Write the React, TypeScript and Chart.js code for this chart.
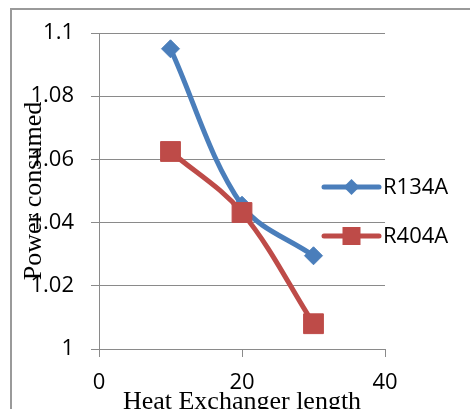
import React, { useEffect, useRef } from "react";
import { Chart, registerables } from "chart.js";

Chart.register(...registerables);

const xValues = [10, 20, 30];
const r134aValues = [1.095, 1.0455, 1.0295];
const r404aValues = [1.0625, 1.0432, 1.008];
const seriesNames = ["R134A", "R404A"];
const seriesColors = ["#4A7EBB", "#BE4B48"];
const seriesMarkers = ["rectRot", "rect"];
const xTickValues = [0, 20, 40];
const yTickValues = [1, 1.02, 1.04, 1.06, 1.08, 1.1];
const xTitle = "Heat Exchanger length";
const yTitle = "Power consumed";

const GRID = "#8a8a8a";
const TICK_FONT = { family: "'Open Sans', sans-serif", size: 22 };
const TITLE_FONT = { family: "'Liberation Serif', 'Times New Roman', serif", size: 26 };

const framePlugin = {
  id: "frame",
  beforeDraw(chart: any) {
    const ctx = chart.ctx;
    ctx.save();
    ctx.fillStyle = "#ffffff";
    ctx.fillRect(0, 0, chart.width, chart.height);
    ctx.strokeStyle = "#9a9a9a";
    ctx.lineWidth = 2;
    ctx.beginPath();
    ctx.moveTo(11, chart.height + 5);
    ctx.lineTo(11, 9);
    ctx.lineTo(chart.width + 5, 9);
    ctx.stroke();
    ctx.restore();
  },
};

const legendPlugin = {
  id: "customLegend",
  afterDraw(chart: any) {
    const ctx = chart.ctx;
    const area = chart.chartArea;
    const x0 = area.right - 61;
    const lineLen = 55;
    const y0 = area.top + 154;
    const gap = 49;
    ctx.save();
    chart.data.datasets.forEach((ds: any, i: number) => {
      const y = y0 + i * gap;
      ctx.strokeStyle = ds.borderColor;
      ctx.lineWidth = 5;
      ctx.lineCap = "round";
      ctx.beginPath();
      ctx.moveTo(x0, y);
      ctx.lineTo(x0 + lineLen, y);
      ctx.stroke();
      ctx.fillStyle = ds.backgroundColor;
      const cx = x0 + lineLen / 2;
      ctx.beginPath();
      if (ds.pointStyle === "rectRot") {
        const r = 8;
        ctx.moveTo(cx - r, y);
        ctx.lineTo(cx, y - r);
        ctx.lineTo(cx + r, y);
        ctx.lineTo(cx, y + r);
        ctx.closePath();
      } else {
        const h = 9;
        ctx.rect(cx - h, y - h, 2 * h, 2 * h);
      }
      ctx.fill();
      ctx.fillStyle = "#000";
      ctx.font = `${TICK_FONT.size}px ${TICK_FONT.family}`;
      ctx.textBaseline = "middle";
      ctx.textAlign = "left";
      ctx.fillText(ds.label, x0 + lineLen + 4, y + 1);
    });
    ctx.restore();
  },
};

export default function App() {
  const ref = useRef<HTMLCanvasElement | null>(null);

  useEffect(() => {
    if (!ref.current) return;
    const allSeries = [r134aValues, r404aValues];
    const chart = new Chart(ref.current, {
      type: "scatter",
      data: {
        datasets: allSeries.map((vals, i) => ({
          label: seriesNames[i],
          data: xValues.map((x, j) => ({ x, y: vals[j] })),
          showLine: true,
          borderColor: seriesColors[i],
          backgroundColor: seriesColors[i],
          borderWidth: 5,
          tension: 0.35,
          pointStyle: seriesMarkers[i] as any,
          pointRadius: i === 0 ? 9 : 14,
          pointBorderWidth: 1,
          pointBorderColor: seriesColors[i],
          pointBackgroundColor: seriesColors[i],
          order: i === 0 ? 1 : 0,
        })),
      },
      options: {
        responsive: false,
        animation: false,
        events: [],
        layout: { padding: { left: 0, top: 33, right: 85, bottom: 0 } },
        plugins: {
          legend: { display: false },
          tooltip: { enabled: false },
        },
        scales: {
          x: {
            type: "linear",
            min: 0,
            max: 40,
            afterBuildTicks: (s: any) => {
              s.ticks = xTickValues.map((v) => ({ value: v }));
            },
            afterFit: (s: any) => {
              s.height = 60;
            },
            ticks: {
              font: TICK_FONT,
              color: "#000",
              padding: 13,
              maxRotation: 0,
            },
            grid: {
              drawOnChartArea: false,
              drawTicks: true,
              tickLength: 8,
              color: GRID,
              lineWidth: 1,
            },
            border: { display: true, color: GRID, width: 1 },
            title: {
              display: true,
              text: xTitle,
              font: TITLE_FONT,
              color: "#000",
              padding: { top: 0, bottom: -9 },
            },
          },
          y: {
            type: "linear",
            min: 1,
            max: 1.1,
            afterBuildTicks: (s: any) => {
              s.ticks = yTickValues.map((v) => ({ value: v }));
            },
            afterFit: (s: any) => {
              s.width = 99;
            },
            ticks: {
              font: TICK_FONT,
              color: "#000",
              padding: 17,
              callback: (v: any) => String(Number(Number(v).toFixed(2))),
            },
            grid: {
              drawTicks: true,
              tickLength: 8,
              color: GRID,
              lineWidth: 1,
            },
            border: { display: true, color: GRID, width: 1 },
            title: {
              display: true,
              text: yTitle,
              font: TITLE_FONT,
              color: "#000",
              padding: { top: 19, bottom: 0 },
            },
          },
        },
      },
      plugins: [framePlugin, legendPlugin],
    } as any);
    return () => chart.destroy();
  }, []);

  return (
    <div style={{ position: "fixed", left: 0, top: 0, width: 470, height: 409 }}>
      <canvas ref={ref} width={470} height={409} style={{ display: "block" }} />
    </div>
  );
}
